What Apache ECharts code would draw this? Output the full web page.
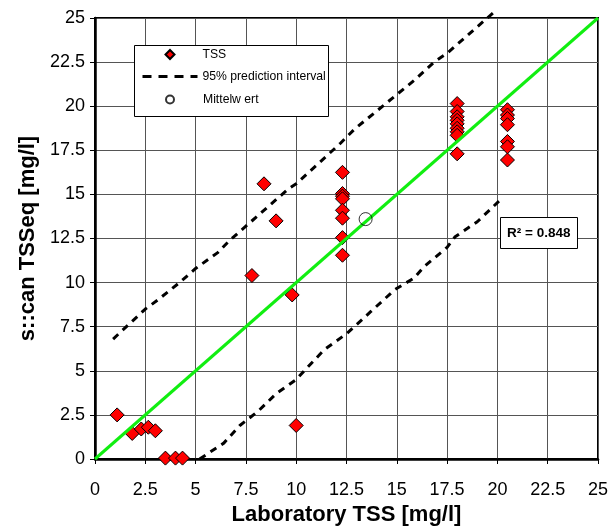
<!DOCTYPE html>
<html>
<head>
<meta charset="utf-8">
<script src="https://cdn.jsdelivr.net/npm/echarts@6/dist/echarts.min.js"></script>
<style>
  html, body { margin: 0; padding: 0; background: #fff; }
  #chart { width: 609px; height: 530px; }
</style>
</head>
<body>
<div id="chart"></div>
<script>
// TSS Messpunkte (Labor vs s::can)
var tssX = [1.1, 1.85, 2.3, 2.65, 3.0, 3.5, 4.0, 4.35,
  7.8, 8.4, 9.0, 9.8, 10.0,
  12.3, 12.3, 12.3, 12.3, 12.3, 12.3, 12.3, 12.3,
  18.0, 18.0, 18.0, 18.0, 18.0, 18.0, 18.0, 18.0, 18.0,
  20.5, 20.5, 20.5, 20.5, 20.5, 20.5, 20.5];
var tssY = [2.5, 1.45, 1.7, 1.8, 1.6, 0.05, 0.05, 0.05,
  10.4, 15.6, 13.5, 9.3, 1.9,
  16.25, 15.05, 14.9, 14.75, 14.1, 13.65, 12.55, 11.55,
  20.15, 19.7, 19.4, 19.2, 19.0, 18.75, 18.55, 18.35, 17.3,
  19.8, 19.5, 19.3, 18.95, 18.0, 17.7, 16.95];

// 95% Vorhersageintervall
var upperX = [0.9, 2.5, 3.1, 4.2, 5.0, 6.1, 6.7, 7.5, 8.2, 9.6, 10.0, 12.2, 12.9, 15.9, 16.85, 17.5, 19.9];
var upperY = [6.8, 8.5, 9.0, 10.0, 10.8, 11.7, 12.4, 13.2, 13.9, 15.3, 15.6, 17.9, 18.7, 21.5, 22.5, 23.0, 25.4];
var lowerX = [5.2, 6.4, 7.2, 8.1, 9.0, 10.0, 10.4, 11.4, 12.5, 13.7, 14.9, 15.85, 16.35, 17.5, 17.9, 19.0, 20.25];
var lowerY = [0.0, 0.9, 1.9, 2.7, 3.7, 4.5, 5.0, 6.2, 7.1, 8.35, 9.6, 10.25, 10.9, 12.0, 12.6, 13.45, 14.8];

var meanX = [13.45];
var meanY = [13.6];
var lineX = [0, 25];
var lineY = [0, 25];
var r2 = 0.848;

function pairs(xs, ys) {
  return xs.map(function (x, i) { return [x, ys[i]]; });
}

var font = "Liberation Sans, Arial, sans-serif";
var legendText = { fontFamily: font, fontSize: 12.2, color: "#000" };
var chart = echarts.init(document.getElementById("chart"));

// eine Legende pro Eintrag, damit die Symbole nicht gestreckt werden
var option = {
  animation: false,
  backgroundColor: "#fff",
  textStyle: { fontFamily: font },
  title: {
    text: "R\u00b2 = " + r2,
    left: 500,
    top: 217,
    backgroundColor: "#fff",
    borderColor: "#000",
    borderWidth: 1,
    padding: [9, 7, 9, 7],
    textStyle: { fontFamily: font, fontSize: 13.5, fontWeight: "bold", color: "#000" },
  },
  graphic: [
    {
      type: "rect",
      left: 134,
      top: 45,
      z: 10,
      shape: { width: 194, height: 71 },
      style: { fill: "#fff", stroke: "#000", lineWidth: 1 },
    },
  ],
  legend: [
    {
      left: 164.5,
      top: 48.5,
      padding: 0,
      z: 11,
      itemWidth: 9,
      itemHeight: 9,
      textStyle: Object.assign({ padding: [0, 0, 0, 23] }, legendText),
      data: [{ name: "TSS", icon: "diamond" }],
    },
    {
      left: 141,
      top: 70.5,
      padding: 0,
      z: 11,
      itemWidth: 55,
      itemHeight: 9,
      lineStyle: { color: "#000", width: 3, type: [9, 7] },
      textStyle: legendText,
      data: [{ name: "95% prediction interval", itemStyle: { color: "rgba(0,0,0,0)", borderWidth: 0 } }],
    },
    {
      left: 165,
      top: 93.5,
      padding: 0,
      z: 11,
      itemWidth: 8,
      itemHeight: 8,
      textStyle: Object.assign({ padding: [0, 0, 0, 24] }, legendText),
      data: [{ name: "Mittelw ert", icon: "circle" }],
    },
  ],
  grid: {
    left: 95,
    right: 11,
    top: 18,
    bottom: 71,
    outerBoundsMode: "none",
    show: true,
    borderColor: "#000",
    borderWidth: 2,
  },
  xAxis: {
    type: "value",
    min: 0,
    max: 25,
    interval: 2.5,
    name: "Laboratory TSS [mg/l]",
    nameLocation: "middle",
    nameGap: 45,
    nameTextStyle: { fontFamily: font, fontSize: 22, fontWeight: "bold", color: "#000" },
    axisLine: { lineStyle: { color: "#000", width: 2.5 } },
    axisTick: { show: true, length: 5, lineStyle: { color: "#000" } },
    axisLabel: { margin: 22, fontSize: 18, color: "#000", fontFamily: font },
    splitLine: { show: true, lineStyle: { color: "#555", width: 1 } },
  },
  yAxis: {
    type: "value",
    min: 0,
    max: 25,
    interval: 2.5,
    name: "s::can TSSeq [mg/l]",
    nameLocation: "middle",
    nameGap: 53,
    nameTextStyle: { fontFamily: font, fontSize: 22, fontWeight: "bold", color: "#000" },
    axisLine: { show: true, lineStyle: { color: "#000", width: 2.5 } },
    axisTick: { show: true, length: 5, lineStyle: { color: "#000" } },
    axisLabel: { margin: 10, fontSize: 18, color: "#000", fontFamily: font },
    splitLine: { show: true, lineStyle: { color: "#555", width: 1 } },
  },
  series: [
    {
      name: "TSS",
      type: "scatter",
      symbol: "diamond",
      symbolSize: 14,
      itemStyle: { color: "#ff0000", borderColor: "#000", borderWidth: 1, opacity: 1 },
      data: pairs(tssX, tssY),
      z: 3,
    },
    {
      name: "95% prediction interval",
      type: "line",
      symbol: "none",
      clip: false,
      itemStyle: { color: "#000" },
      lineStyle: { color: "#000", width: 3, type: [7, 6] },
      data: pairs(upperX, upperY),
      z: 4,
    },
    {
      name: "95% prediction interval",
      type: "line",
      symbol: "none",
      itemStyle: { color: "#000" },
      lineStyle: { color: "#000", width: 3, type: [7, 6] },
      data: pairs(lowerX, lowerY),
      z: 4,
    },
    {
      name: "fit",
      type: "line",
      symbol: "none",
      lineStyle: { color: "#11ee11", width: 3 },
      data: pairs(lineX, lineY),
      z: 5,
    },
    {
      name: "Mittelw ert",
      type: "scatter",
      symbol: "circle",
      symbolSize: 13,
      itemStyle: { color: "rgba(255,255,255,0)", borderColor: "#000", borderWidth: 1 },
      data: pairs(meanX, meanY),
      z: 6,
    },
  ],
};

chart.setOption(option);
window.onresize = function () {
  chart.resize();
};
</script>
</body>
</html>
